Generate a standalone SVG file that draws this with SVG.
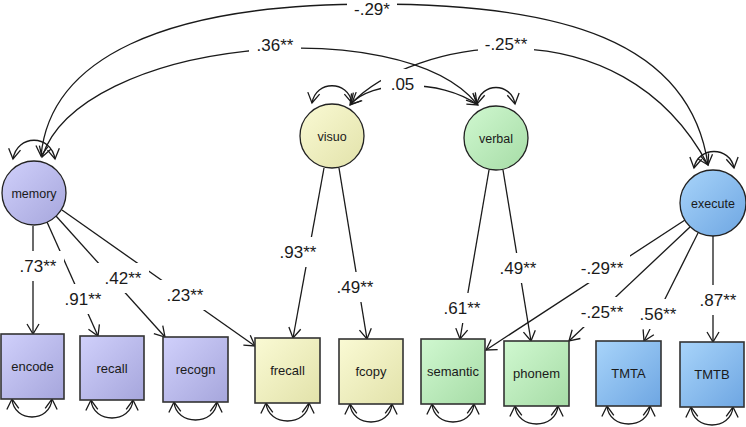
<svg xmlns="http://www.w3.org/2000/svg" width="746" height="427" viewBox="0 0 746 427">
<style>
.ln{fill:none;stroke:#1a1a1a;stroke-width:1.3}
.ar{marker-end:url(#ah)}
.dbl{marker-start:url(#ah);marker-end:url(#ah)}
.lb{font-family:"Liberation Sans",Arial,sans-serif;font-size:17px;fill:#1a1a1a;text-anchor:middle}
.bg{fill:#ffffff;stroke:none}
.nt{font-family:"Liberation Sans",Arial,sans-serif;font-size:13px;fill:#1a1a1a;text-anchor:middle}
.ct{font-family:"Liberation Sans",Arial,sans-serif;font-size:12.5px;fill:#1a1a1a;text-anchor:middle}
.cir{stroke:#222;stroke-width:1.3}
.box{stroke:#333;stroke-width:1.6}
</style>
<defs>
<linearGradient id="gP" x1="0" y1="0" x2="1" y2="1"><stop offset="0" stop-color="#d0d0fb"/><stop offset="1" stop-color="#a6a6dc"/></linearGradient>
<linearGradient id="gY" x1="0" y1="0" x2="1" y2="1"><stop offset="0" stop-color="#fafad4"/><stop offset="1" stop-color="#e2e2aa"/></linearGradient>
<linearGradient id="gG" x1="0" y1="0" x2="1" y2="1"><stop offset="0" stop-color="#d0f8d0"/><stop offset="1" stop-color="#a6dca6"/></linearGradient>
<linearGradient id="gB" x1="0" y1="0" x2="1" y2="1"><stop offset="0" stop-color="#a8d4fa"/><stop offset="1" stop-color="#6ea6e2"/></linearGradient>
<marker id="ah" viewBox="0 0 10 12" refX="10" refY="6" markerWidth="10" markerHeight="12" markerUnits="userSpaceOnUse" orient="auto-start-reverse" overflow="visible"><path d="M0,0 L10,6 L0,12" fill="none" stroke="#1a1a1a" stroke-width="1.3"/></marker>
</defs>
<rect x="0" y="0" width="746" height="427" fill="#ffffff"/>
<g id="connectors">
<!-- covariances -->
<path class="ln dbl" d="M41,156 C50,60 160,4 373,4 C560,4 690,40 708,165"/>
<path class="ln dbl" d="M42,157 C80,40 400,10 477,104"/>
<path class="ln dbl" d="M351,104 C410,40 620,0 708,165"/>
<path class="ln dbl" d="M350,105 C370,80 440,78 478,105"/>
<!-- latent variances -->
<path class="ln dbl" d="M13,159 C17,134 51,134 55,159"/>
<path class="ln dbl" d="M312,103 C316,80 348,80 352,103"/>
<path class="ln dbl" d="M477,104 C481,82 511,82 515,104"/>
<path class="ln dbl" d="M694,168 C698,146 730,146 734,168"/>
<!-- loadings -->
<path class="ln ar" d="M33,226 L33,334"/>
<path class="ln ar" d="M47,222 L98,336"/>
<path class="ln ar" d="M56,216 L165,337"/>
<path class="ln ar" d="M62,210 L255,346"/>
<path class="ln ar" d="M324,168 L293,338"/>
<path class="ln ar" d="M339,168 L367,339"/>
<path class="ln ar" d="M489,170 L460,339"/>
<path class="ln ar" d="M503,170 L531,341"/>
<path class="ln ar" d="M685,220 L486,350"/>
<path class="ln ar" d="M690,227 L569,341"/>
<path class="ln ar" d="M698,233 L644,341"/>
<path class="ln ar" d="M713,236 L713,342"/>
<!-- error variances -->
<path class="ln dbl" d="M12,399 C14,423 50,423 52,399"/>
<path class="ln dbl" d="M91,400 C93,424 131,424 133,400"/>
<path class="ln dbl" d="M174,402 C176,426 215,426 217,402"/>
<path class="ln dbl" d="M266,403 C268,427 307,427 309,403"/>
<path class="ln dbl" d="M350,404 C352,428 390,428 392,404"/>
<path class="ln dbl" d="M432,404 C434,428 472,428 474,404"/>
<path class="ln dbl" d="M515,406 C517,430 556,430 558,406"/>
<path class="ln dbl" d="M607,406 C609,430 648,430 650,406"/>
<path class="ln dbl" d="M691,407 C693,431 731,431 733,407"/>
<!-- labels -->
<rect class="bg" x="347" y="-6" width="50" height="30"/><text class="lb" x="372" y="15">-.29*</text>
<rect class="bg" x="249" y="30" width="52" height="30"/><text class="lb" x="275" y="51">.36**</text>
<rect class="bg" x="478" y="29" width="56" height="30"/><text class="lb" x="506" y="50">-.25**</text>
<rect class="bg" x="381" y="69" width="43" height="30"/><text class="lb" x="402.5" y="90">.05</text>
<rect class="bg" x="12" y="251" width="52" height="30"/><text class="lb" x="38" y="272">.73**</text>
<rect class="bg" x="57" y="284" width="52" height="30"/><text class="lb" x="83" y="305">.91**</text>
<rect class="bg" x="97" y="263" width="52" height="30"/><text class="lb" x="123" y="284">.42**</text>
<rect class="bg" x="159" y="280" width="52" height="30"/><text class="lb" x="185" y="301">.23**</text>
<rect class="bg" x="272" y="237" width="52" height="30"/><text class="lb" x="298" y="258">.93**</text>
<rect class="bg" x="329" y="272" width="52" height="30"/><text class="lb" x="355" y="293">.49**</text>
<rect class="bg" x="436" y="293" width="52" height="30"/><text class="lb" x="462" y="314">.61**</text>
<rect class="bg" x="492" y="253" width="52" height="30"/><text class="lb" x="518" y="274">.49**</text>
<rect class="bg" x="574" y="253" width="56" height="30"/><text class="lb" x="602" y="274">-.29**</text>
<rect class="bg" x="574" y="297" width="56" height="30"/><text class="lb" x="602" y="318">-.25**</text>
<rect class="bg" x="632" y="299" width="52" height="30"/><text class="lb" x="658" y="320">.56**</text>
<rect class="bg" x="692" y="285" width="52" height="30"/><text class="lb" x="718" y="306">.87**</text>
</g>
<g id="memory"><circle class="cir" cx="34" cy="193" r="32" fill="url(#gP)"/><text class="ct" x="34" y="197.5">memory</text></g>
<g id="visuo"><circle class="cir" cx="332" cy="136" r="32" fill="url(#gY)"/><text class="ct" x="332" y="140.5">visuo</text></g>
<g id="verbal"><circle class="cir" cx="496" cy="138" r="32" fill="url(#gG)"/><text class="ct" x="496" y="142.5">verbal</text></g>
<g id="execute"><circle class="cir" cx="713" cy="203" r="33" fill="url(#gB)"/><text class="ct" x="713" y="207.5">execute</text></g>
<g id="encode"><rect class="box" x="1" y="334" width="63" height="65" fill="url(#gP)"/><text class="nt" x="32.5" y="371">encode</text></g>
<g id="recall"><rect class="box" x="80" y="336" width="64" height="64" fill="url(#gP)"/><text class="nt" x="112" y="372.5">recall</text></g>
<g id="recogn"><rect class="box" x="163" y="337" width="65" height="65" fill="url(#gP)"/><text class="nt" x="195.5" y="374">recogn</text></g>
<g id="frecall"><rect class="box" x="255" y="338" width="65" height="65" fill="url(#gY)"/><text class="nt" x="287.5" y="375">frecall</text></g>
<g id="fcopy"><rect class="box" x="339" y="339" width="64" height="65" fill="url(#gY)"/><text class="nt" x="371" y="376">fcopy</text></g>
<g id="semantic"><rect class="box" x="421" y="339" width="64" height="65" fill="url(#gG)"/><text class="nt" x="453" y="376">semantic</text></g>
<g id="phonem"><rect class="box" x="504" y="341" width="65" height="65" fill="url(#gG)"/><text class="nt" x="536.5" y="378">phonem</text></g>
<g id="TMTA"><rect class="box" x="596" y="341" width="65" height="65" fill="url(#gB)"/><text class="nt" x="628.5" y="378">TMTA</text></g>
<g id="TMTB"><rect class="box" x="680" y="342" width="64" height="65" fill="url(#gB)"/><text class="nt" x="712" y="379">TMTB</text></g>
</svg>
